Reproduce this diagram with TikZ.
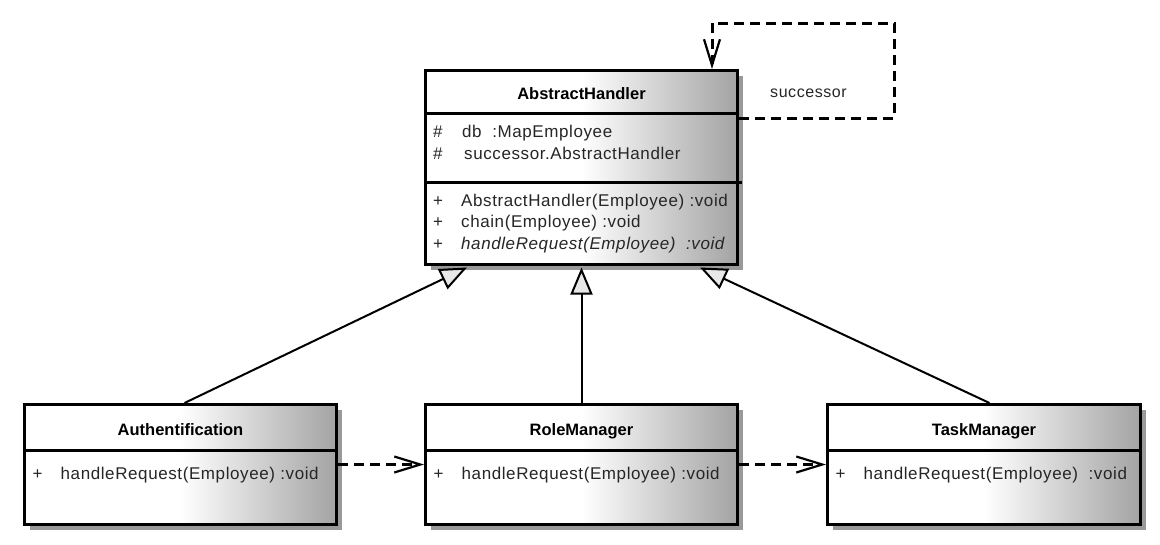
\documentclass[tikz,border=0pt]{standalone}
\usepackage{fontspec}
\setmainfont{Liberation Sans}
\newfontfamily\regfont[LetterSpace=3.5]{Liberation Sans}
\usetikzlibrary{arrows.meta,shadows,calc}
\begin{document}
\begin{tikzpicture}[x=1pt,y=-1pt,
  classbox/.style={draw=black, line width=3pt, left color=white, right color=black!36, middle color=white,
    general shadow={fill=black!40, shadow xshift=5pt, shadow yshift=-5pt},
    minimum width=312pt, inner sep=0pt, anchor=north west},
  divider/.style={draw=black, line width=3pt},
  titletext/.style={font=\fontsize{16.5pt}{20pt}\selectfont\bfseries, anchor=base, inner sep=0pt},
  membertext/.style={font=\fontsize{17pt}{20pt}\selectfont\regfont, anchor=base west, inner sep=0pt, text=black!85},
  vistext/.style={font=\fontsize{17pt}{20pt}\selectfont\regfont, anchor=base west, inner sep=0pt, text=black!85},
  dashlink/.style={draw=black, line width=3pt, dash pattern=on 10pt off 6pt, -{Straight Barb[length=26pt,width=16pt,line width=2.2pt]}},
  inherit/.style={draw=black, line width=2pt, -{Triangle[length=27pt,width=22pt,fill=black!9,line width=2pt]}}
]
\useasboundingbox (0,0) rectangle (1160,544);
\fill[white] (0,0) rectangle (1160,544);

% ---------- AbstractHandler ----------
\node[classbox, minimum height=194pt] (ah) at (424,69) {};
\draw[divider] ($(ah.north west)+(0,44)$) -- ($(ah.north east)+(0,44)$);
\draw[divider] ($(ah.north west)+(0,113)$) -- ($(ah.north east)+(3,113)$);
\node[titletext] (ahT) at ($(ah.north)+(0,30.5)$) {AbstractHandler};
\node[vistext] (ahV1) at ($(ah.north west)+(9,68)$) {\#};
\node[membertext] (ahA1) at ($(ah.north west)+(38,68)$) {db\ \ :MapEmployee};
\node[vistext] (ahV2) at ($(ah.north west)+(9,90)$) {\#};
\node[membertext] (ahA2) at ($(ah.north west)+(40,90)$) {successor.AbstractHandler};
\node[vistext] (ahV3) at ($(ah.north west)+(9,137)$) {+};
\node[membertext] (ahM1) at ($(ah.north west)+(37,137)$) {AbstractHandler(Employee) :void};
\node[vistext] (ahV4) at ($(ah.north west)+(9,158.5)$) {+};
\node[membertext] (ahM2) at ($(ah.north west)+(37,158.5)$) {chain(Employee) :void};
\node[vistext] (ahV5) at ($(ah.north west)+(9,180)$) {+};
\node[membertext, font=\fontsize{17pt}{20pt}\selectfont\regfont\itshape] (ahM3) at ($(ah.north west)+(37,180)$) {handleRequest(Employee)\ \ :void};

% ---------- Authentification ----------
\node[classbox, minimum height=120pt] (au) at (23,403) {};
\draw[divider] ($(au.north west)+(0,47)$) -- ($(au.north east)+(0,47)$);
\node[titletext] (auT) at ($(au.north)+(0,32)$) {Authentification};
\node[vistext] (auV) at ($(au.north west)+(9.5,76)$) {+};
\node[membertext] (auM) at ($(au.north west)+(37.5,76)$) {handleRequest(Employee) :void};

% ---------- RoleManager ----------
\node[classbox, minimum height=120pt] (rm) at (424,403) {};
\draw[divider] ($(rm.north west)+(0,47)$) -- ($(rm.north east)+(0,47)$);
\node[titletext] (rmT) at ($(rm.north)+(0,32)$) {RoleManager};
\node[vistext] (rmV) at ($(rm.north west)+(9.5,76)$) {+};
\node[membertext] (rmM) at ($(rm.north west)+(37.5,76)$) {handleRequest(Employee) :void};

% ---------- TaskManager ----------
\node[classbox, minimum width=313pt, minimum height=120pt] (tm) at (826,403) {};
\draw[divider] ($(tm.north west)+(0,47)$) -- ($(tm.north east)+(0,47)$);
\node[titletext] (tmT) at ($(tm.north)+(0,32)$) {TaskManager};
\node[vistext] (tmV) at ($(tm.north west)+(9.5,76)$) {+};
\node[membertext] (tmM) at ($(tm.north west)+(37.5,76)$) {handleRequest(Employee)\ \ :void};

% ---------- self association ----------
\coordinate (loopStart) at ($(ah.north east)+(0,49)$);
\coordinate (loopCorner) at (894,23);
\coordinate (loopEnd) at ($(ah.north east)+(-27,0)$);
\draw[dashlink] (loopStart) -| (loopCorner) -| (loopEnd);
\node[font=\fontsize{16pt}{20pt}\selectfont\regfont, anchor=base west, inner sep=0pt, text=black!85] (succ) at (770,97) {successor};

% ---------- chain links ----------
\draw[dashlink] (au.east) -- (rm.west);
\draw[dashlink] (rm.east) -- (tm.west);

% ---------- generalizations ----------
\coordinate (tipL) at ($(ah.south west)+(43,1.5)$);
\coordinate (tipR) at ($(ah.south east)+(-39,1.5)$);
\coordinate (tipM) at ($(ah.south)+(0,1.5)$);
\draw[inherit] ($(au.north)+(4,0)$) -- (tipL);
\draw[inherit] (rm.north) -- (tipM);
\draw[inherit] ($(tm.north)+(5.5,0)$) -- (tipR);
\end{tikzpicture}
\end{document}
